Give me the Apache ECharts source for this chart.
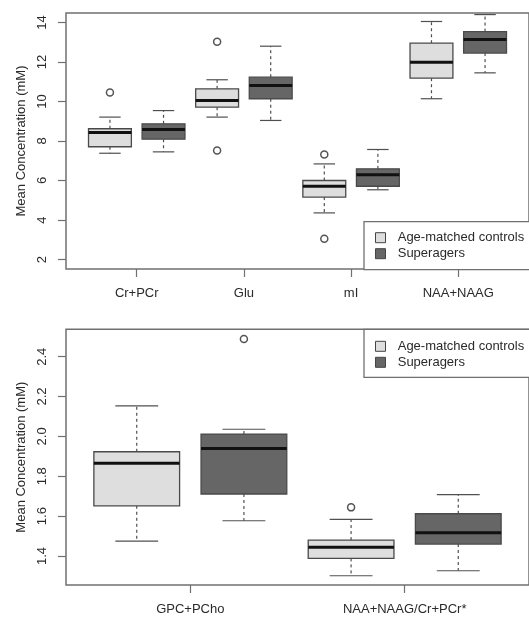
<!DOCTYPE html>
<html>
<head>
<meta charset="utf-8">
<script src="https://cdn.jsdelivr.net/npm/echarts@6/dist/echarts.min.js"></script>
<style>
html, body { margin: 0; padding: 0; background: #fff; }
#main { width: 529px; height: 618px; }
</style>
</head>
<body>
<div id="main"></div>
<script>
// metabolite groups, each box = [min, Q1, median, Q3, max]
var topCats = ['Cr+PCr', 'Glu', 'mI', 'NAA+NAAG'];
var topCtrl = [[7.38, 7.71, 8.43, 8.62, 9.21], [9.21, 9.71, 10.05, 10.64, 11.1], [4.36, 5.16, 5.71, 6.0, 6.84], [10.14, 11.18, 11.99, 12.95, 14.05]];
var topSuper = [[7.45, 8.09, 8.58, 8.87, 9.54], [9.04, 10.14, 10.81, 11.23, 12.8], [5.53, 5.71, 6.29, 6.59, 7.57], [11.45, 12.45, 13.14, 13.54, 14.4]];
// outliers: [group index, value]
var topCtrlOut = [[0, 10.46], [1, 13.02], [1, 7.52], [2, 7.32], [2, 3.05]];
var topSuperOut = [];
var topTicks = [2, 4, 6, 8, 10, 12, 14];

var botCats = ['GPC+PCho', 'NAA+NAAG/Cr+PCr*'];
var botCtrl = [[1.475, 1.652, 1.865, 1.923, 2.153], [1.301, 1.388, 1.444, 1.48, 1.584]];
var botSuper = [[1.577, 1.711, 1.94, 2.012, 2.036], [1.326, 1.46, 1.517, 1.612, 1.708]];
var botCtrlOut = [[1, 1.644]];
var botSuperOut = [[0, 2.489]];
var botTicks = [1.4, 1.6, 1.8, 2.0, 2.2, 2.4];

var names = ['Age-matched controls', 'Superagers'];
var fills = ['#dedede', '#666666'];
var font = 'Liberation Sans, Arial, sans-serif';
var txt = '#2a2a2a';
var frame = '#707070';

var chart = echarts.init(document.getElementById('main'));

// box slot: group i -> controls at 2i+1, superagers at 2i+2
function boxData(arr, grp) {
	return arr.map(function(d, i) {
				return [2 * i + 1 + grp].concat(d);
			});
}
function outData(arr, grp) {
	return arr.map(function(d) {
				return [2 * d[0] + 1 + grp, d[1]];
			});
}
function midTicks(cats) {
	return cats.map(function(c, i) {
				return 2 * i + 1.5;
			});
}

function renderBox(params, api) {
	var x = api.value(0);
	var lo = api.coord([x, api.value(1)]);
	var q1 = api.coord([x, api.value(2)]);
	var md = api.coord([x, api.value(3)]);
	var q3 = api.coord([x, api.value(4)]);
	var hi = api.coord([x, api.value(5)]);
	var w = api.size([0.8, 0])[0];
	var cx = md[0];
	var cap = w / 4;
	var whisk = {stroke: '#505050', lineWidth: 1.2, lineDash: [3, 3]};
	var capSt = {stroke: '#505050', lineWidth: 1.2};
	return {
		type : 'group',
		children : [{
					type : 'line',
					shape : {x1 : cx, y1 : q3[1], x2 : cx, y2 : hi[1]},
					style : whisk
				}, {
					type : 'line',
					shape : {x1 : cx, y1 : q1[1], x2 : cx, y2 : lo[1]},
					style : whisk
				}, {
					type : 'line',
					shape : {x1 : cx - cap, y1 : hi[1], x2 : cx + cap, y2 : hi[1]},
					style : capSt
				}, {
					type : 'line',
					shape : {x1 : cx - cap, y1 : lo[1], x2 : cx + cap, y2 : lo[1]},
					style : capSt
				}, {
					type : 'rect',
					shape : {x : cx - w / 2, y : q3[1], width : w, height : q1[1] - q3[1]},
					style : {fill : api.visual('color'), stroke : '#4a4a4a', lineWidth : 1.3}
				}, {
					type : 'line',
					shape : {x1 : cx - w / 2, y1 : md[1], x2 : cx + w / 2, y2 : md[1]},
					style : {stroke : '#111', lineWidth : 3}
				}]
	};
}

function boxSeries(name, data, idx, grp) {
	return {
		name : name,
		type : 'custom',
		xAxisIndex : idx,
		yAxisIndex : idx,
		renderItem : renderBox,
		itemStyle : {color : fills[grp], borderColor : '#444', borderWidth : 1},
		encode : {x : 0, y : [1, 2, 3, 4, 5]},
		silent : true,
		data : boxData(data, grp)
	};
}
function outSeries(data, idx, grp) {
	return {
		name : 'out' + idx + grp,
		type : 'scatter',
		xAxisIndex : idx,
		yAxisIndex : idx,
		symbol : 'circle',
		symbolSize : 7,
		itemStyle : {color : '#ffffff', borderColor : '#555555', borderWidth : 1.5, opacity : 1},
		silent : true,
		z : 5,
		data : outData(data, grp)
	};
}

function xAxis(idx, min, max, cats) {
	return {
		type : 'value',
		gridIndex : idx,
		min : min,
		max : max,
		axisLine : {show : false},
		splitLine : {show : false},
		axisTick : {
			show : true,
			length : 8,
			customValues : midTicks(cats),
			lineStyle : {color : frame, width : 1.2}
		},
		axisLabel : {
			customValues : midTicks(cats),
			margin : 18,
			fontSize : 13,
			fontFamily : font,
			color : txt,
			formatter : function(v) {
				return cats[Math.round((v - 1.5) / 2)];
			}
		}
	};
}
function yAxis(idx, min, max, ticks, dec) {
	return {
		type : 'value',
		gridIndex : idx,
		min : min,
		max : max,
		name : 'Mean Concentration (mM)',
		nameLocation : 'middle',
		nameGap : 38,
		nameTextStyle : {fontSize : 13, fontFamily : font, color : txt},
		axisLine : {show : false},
		splitLine : {show : false},
		axisTick : {
			show : true,
			length : 8,
			customValues : ticks,
			lineStyle : {color : frame, width : 1.2}
		},
		axisLabel : {
			customValues : ticks,
			rotate : 90,
			margin : 17,
			fontSize : 13,
			fontFamily : font,
			color : txt,
			formatter : function(v) {
				return v.toFixed(dec);
			}
		}
	};
}
function legend(top, pad) {
	return {
		data : names,
		orient : 'vertical',
		left : 364,
		top : top,
		icon : 'rect',
		itemWidth : 10,
		itemHeight : 10,
		itemGap : 2,
		padding : pad,
		borderColor : frame,
		borderWidth : 1.3,
		backgroundColor : '#fff',
		selectedMode : false,
		formatter : '  {name}',
		itemStyle : {borderColor : '#444', borderWidth : 1},
		textStyle : {fontSize : 13, fontFamily : font, color : txt, lineHeight : 14}
	};
}

var option = {
	animation : false,
	backgroundColor : '#fff',
	grid : [{
				left : 66,
				top : 13,
				width : 468.3,
				height : 256,
				show : true,
				borderColor : frame,
				borderWidth : 1.5
			}, {
				left : 66,
				top : 329.3,
				width : 465.7,
				height : 255.7,
				show : true,
				borderColor : frame,
				borderWidth : 1.5
			}],
	xAxis : [xAxis(0, 0.18, 8.82, topCats), xAxis(1, 0.34, 4.66, botCats)],
	yAxis : [yAxis(0, 1.52, 14.48, topTicks, 0),
			yAxis(1, 1.2545, 2.5375, botTicks, 1)],
	legend : [legend(221.7, [9, 20, 9, 11]), legend(329.3, [10, 20, 8, 11])],
	series : [boxSeries(names[0], topCtrl, 0, 0),
			boxSeries(names[1], topSuper, 0, 1), outSeries(topCtrlOut, 0, 0),
			outSeries(topSuperOut, 0, 1), boxSeries(names[0], botCtrl, 1, 0),
			boxSeries(names[1], botSuper, 1, 1), outSeries(botCtrlOut, 1, 0),
			outSeries(botSuperOut, 1, 1)]
};

chart.setOption(option);
</script>
</body>
</html>
